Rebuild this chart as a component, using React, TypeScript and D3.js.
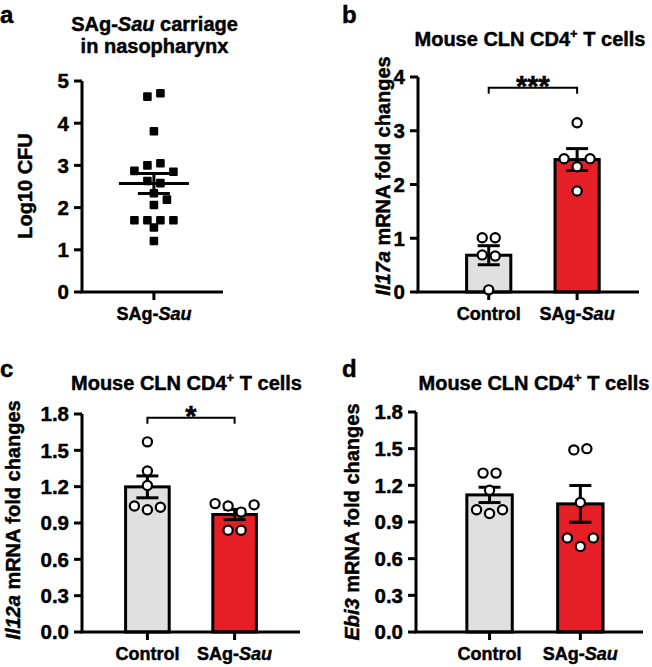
import React from 'react';
import * as d3 from 'd3';

// ---- data ----
const groups = ['Control', 'SAg-Sau'];

// panel a: log10 CFU per mouse
const carriage = [4.63, 4.71, 3.81, 3.0, 3.05, 2.87, 2.85, 2.63, 2.58, 2.34, 2.19, 2.06, 1.7, 1.7, 1.7, 1.7, 1.53, 1.21];

// panel b: Il17a fold change
const il17aControl = [1.01, 1.01, 0.69, 0.67, 0.04];
const il17aSau = [3.15, 2.48, 2.33, 2.48, 1.88];

// panel c: Il12a fold change
const il12aControl = [1.57, 1.33, 1.21, 1.04, 1.01, 1.03];
const il12aSau = [1.06, 1.04, 0.99, 1.05, 0.84, 0.84];

// panel d: Ebi3 fold change
const ebi3Control = [1.3, 1.3, 1.16, 1.0, 0.97, 1.0];
const ebi3Sau = [1.49, 1.5, 1.06, 0.77, 0.7, 0.77];

const ticksA = [0, 1, 2, 3, 4, 5];
const ticksB = [0, 1, 2, 3, 4];
const ticksCD = [0, 0.3, 0.6, 0.9, 1.2, 1.5, 1.8];

const FONT = '"Liberation Sans", Arial, Helvetica, sans-serif';
const GREY = '#e0e0e0';
const RED = '#e61e25';

const sem = (v) => d3.deviation(v) / Math.sqrt(v.length);

// GraphPad-like column scatter: rows of points at similar height, spread symmetrically
function swarm(values, y, cx, opt) {
  const pts = values.map((v, i) => ({ v, i, py: y(v), px: cx }));
  const sorted = [...pts].sort((a, b) => a.py - b.py || a.i - b.i);
  const rows = [];
  sorted.forEach((p) => {
    const row = rows[rows.length - 1];
    if (row && p.py - row[0].py <= opt.rowGap) row.push(p);
    else rows.push([p]);
  });
  const placed = [];
  const hits = (x, py) =>
    placed.some((q) => Math.abs(q.px - x) < opt.dx && Math.abs(q.py - py) < opt.dy);
  rows.forEach((row) => {
    row.sort((a, b) => a.i - b.i);
    const n = row.length;
    for (let k = 0; k < 8; k++) {
      let offs;
      if (n === 1) offs = [k === 0 ? 0 : (k % 2 ? 1 : -1) * Math.ceil(k / 2) * opt.step];
      else
        offs = row.map((_, j) => {
          const c = j - (n - 1) / 2;
          return (c + Math.sign(c) * k) * opt.step;
        });
      if (row.every((p, j) => !hits(cx + offs[j], p.py)) || k === 7) {
        row.forEach((p, j) => {
          p.px = cx + offs[j];
          placed.push(p);
        });
        break;
      }
    }
  });
  return pts;
}

const GroupLabel = ({ name }) => {
  const parts = name.split('-');
  if (parts.length < 2) return <>{name}</>;
  return (
    <>
      <tspan>{parts[0]}-</tspan>
      <tspan fontStyle="italic">{parts[1]}</tspan>
    </>
  );
};

const CellTitle = ({ x, y }) => (
  <text x={x} y={y} textAnchor="middle" fontSize={20} fontWeight="bold">
    Mouse CLN CD4
    <tspan dy={-8} fontSize={13}>+</tspan>
    <tspan dy={8}> T cells</tspan>
  </text>
);

const YLabel = ({ x, y, gene }) => (
  <text transform={`translate(${x},${y}) rotate(-90)`} textAnchor="middle" fontSize={20} fontWeight="bold">
    <tspan fontStyle="italic">{gene}</tspan> mRNA fold changes
  </text>
);

function Axes({ x0, x1, y, ticks, fmt, xs, cats }) {
  const y0 = y(0);
  const yT = y(ticks[ticks.length - 1]);
  return (
    <g>
      <path d={`M${x0},${yT}V${y0}H${x1}`} fill="none" stroke="#000" strokeWidth={3} />
      {ticks.map((t) => (
        <g key={t}>
          <line x1={x0 - 8} x2={x0} y1={y(t)} y2={y(t)} stroke="#000" strokeWidth={3} />
          <text x={x0 - 13} y={y(t)} dy="0.36em" textAnchor="end" fontSize={20.5} fontWeight="bold">
            {fmt(t)}
          </text>
        </g>
      ))}
      {cats.map((c) => (
        <g key={c}>
          <line x1={xs(c)} x2={xs(c)} y1={y0} y2={y0 + 8} stroke="#000" strokeWidth={3} />
          <text x={xs(c)} y={y0 + 28} textAnchor="middle" fontSize={18} fontWeight="bold">
            <GroupLabel name={c} />
          </text>
        </g>
      ))}
    </g>
  );
}

function BarPanel({ x0, x1, yBottom, yTop, max, ticks, series, align, title, gene, labelX, labelY, letter, letterX, letterY, sig }) {
  const y = d3.scaleLinear().domain([0, max]).range([yBottom, yTop]);
  const xs = d3.scaleBand().domain(groups).range([x0, x1]).paddingInner(0.5).paddingOuter(0.5).align(align);
  const bw = xs.bandwidth();
  const fills = [GREY, RED];
  const fmt = d3.format('.1f');
  return (
    <g>
      <text x={letterX} y={letterY} fontSize={24} fontWeight="bold">{letter}</text>
      <CellTitle x={title.x} y={title.y} />
      <YLabel x={labelX} y={labelY} gene={gene} />
      {series.map((vals, gi) => {
        const g = groups[gi];
        const m = d3.mean(vals);
        return (
          <rect key={g} x={xs(g)} y={y(m)} width={bw} height={y(0) - y(m)} fill={fills[gi]} stroke="#000" strokeWidth={3} />
        );
      })}
      {series.map((vals, gi) => {
        const cx = xs(groups[gi]) + bw / 2;
        const m = d3.mean(vals);
        const e = sem(vals);
        return (
          <g key={gi} stroke="#000" strokeWidth={3}>
            <line x1={cx} x2={cx} y1={y(m - e)} y2={y(m + e)} />
            <line x1={cx - 11} x2={cx + 11} y1={y(m + e)} y2={y(m + e)} />
            <line x1={cx - 11} x2={cx + 11} y1={y(m - e)} y2={y(m - e)} />
          </g>
        );
      })}
      <Axes x0={x0} x1={x1} y={y} ticks={ticks} fmt={max < 3 ? fmt : (d) => d} xs={(c) => xs(c) + bw / 2} cats={groups} />
      {series.map((vals, gi) =>
        swarm(vals, y, xs(groups[gi]) + bw / 2, { rowGap: 9, step: 13, dx: 10.5, dy: 10.5 }).map((p) => (
          <circle key={`${gi}-${p.i}`} cx={p.px} cy={p.py} r={4.6} fill="#fff" stroke="#000" strokeWidth={2.2} />
        ))
      )}
      {sig && (() => {
        const a = xs(groups[0]) + bw / 2;
        const b = xs(groups[1]) + bw / 2;
        const by = y(sig.level);
        return (
          <g>
            <path d={`M${a},${by + 6}V${by}H${b}V${by + 6}`} fill="none" stroke="#000" strokeWidth={2} />
            <text x={(a + b) / 2} y={by + 8} textAnchor="middle" fontSize={29} fontWeight="bold">{sig.text}</text>
          </g>
        );
      })()}
    </g>
  );
}

function ScatterPanel() {
  const x0 = 82;
  const x1 = 223;
  const y = d3.scaleLinear().domain([0, 5]).range([292, 81]);
  const xs = d3.scalePoint().domain(['SAg-Sau']).range([x0, x1]).padding(0.5).align(0.51);
  const cx = xs('SAg-Sau');
  const m = d3.mean(carriage);
  const e = sem(carriage);
  const pts = swarm(carriage, y, cx, { rowGap: 5, step: 13, dx: 9, dy: 7 });
  return (
    <g>
      <text x={0} y={23} fontSize={24} fontWeight="bold">a</text>
      <text x={154.5} y={31} textAnchor="middle" fontSize={20} fontWeight="bold">
        SAg-<tspan fontStyle="italic">Sau</tspan> carriage
      </text>
      <text x={154.5} y={53} textAnchor="middle" fontSize={20} fontWeight="bold">in nasopharynx</text>
      <text transform={`translate(32,186) rotate(-90)`} textAnchor="middle" fontSize={20} fontWeight="bold">Log10 CFU</text>
      <Axes x0={x0} x1={x1} y={y} ticks={ticksA} fmt={(d) => d} xs={xs} cats={['SAg-Sau']} />
      {pts.map((p) => (
        <rect key={p.i} x={p.px - 4.3} y={p.py - 4.3} width={8.6} height={8.6} rx={1} fill="#000" />
      ))}
      <g stroke="#000" strokeWidth={3}>
        <line x1={cx - 35} x2={cx + 35} y1={y(m)} y2={y(m)} />
        <line x1={cx} x2={cx} y1={y(m - e)} y2={y(m + e)} />
        <line x1={cx - 16} x2={cx + 16} y1={y(m + e)} y2={y(m + e)} />
        <line x1={cx - 16} x2={cx + 16} y1={y(m - e)} y2={y(m - e)} />
      </g>
    </g>
  );
}

export default function App() {
  return (
    <svg
      width={652}
      height={667}
      style={{ position: 'absolute', left: 0, top: 0, background: '#fff' }}
      fontFamily={FONT}
    >
      <style>{'text{stroke:#000;stroke-width:0.45px;}'}</style>
      <rect width={652} height={667} fill="#fff" />
      <ScatterPanel />
      <BarPanel
        x0={418} x1={639} yBottom={292} yTop={77} max={4} ticks={ticksB}
        series={[il17aControl, il17aSau]} align={0.55}
        title={{ x: 530, y: 46 }} gene="Il17a" labelX={390} labelY={176}
        letter="b" letterX={342} letterY={23} sig={{ level: 3.8, text: '***' }}
      />
      <BarPanel
        x0={82} x1={300} yBottom={632} yTop={414} max={1.8} ticks={ticksCD}
        series={[il12aControl, il12aSau]} align={0.5}
        title={{ x: 186.5, y: 390 }} gene="Il12a" labelX={20} labelY={520}
        letter="c" letterX={0} letterY={377} sig={{ level: 1.77, text: '*' }}
      />
      <BarPanel
        x0={416} x1={643} yBottom={632} yTop={412} max={1.8} ticks={ticksCD}
        series={[ebi3Control, ebi3Sau]} align={0.56}
        title={{ x: 534, y: 390 }} gene="Ebi3" labelX={359} labelY={522}
        letter="d" letterX={342} letterY={377}
      />
    </svg>
  );
}
